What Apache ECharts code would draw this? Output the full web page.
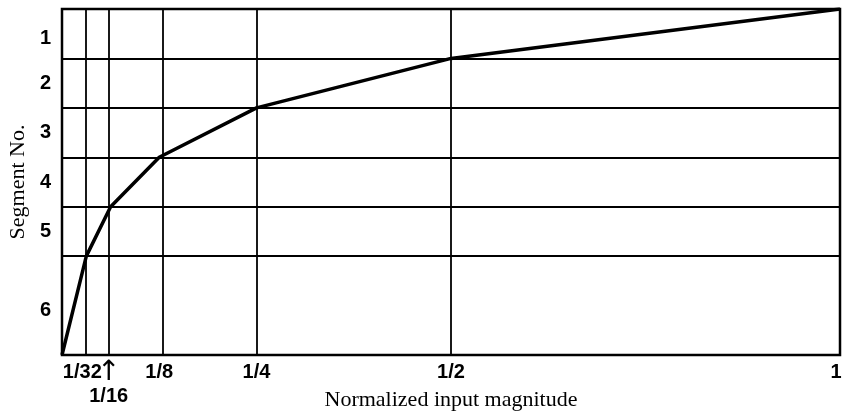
<!DOCTYPE html>
<html>
<head>
<meta charset="utf-8">
<script src="https://cdn.jsdelivr.net/npm/echarts@6/dist/echarts.min.js"></script>
<style>
  html, body { margin: 0; padding: 0; background: #fff; }
  #chart { width: 845px; height: 416px; }
</style>
</head>
<body>
<div id="chart"></div>
<script>
// breakpoints of the segmented curve
const segX = [0, 1 / 32, 1 / 16, 1 / 8, 1 / 4, 1 / 2, 1]
const segY = [0, 2, 3, 4, 5, 6, 7]

// grid lines inside the frame
const xGridVals = [1 / 32, 1 / 16, 1 / 8, 1 / 4, 1 / 2]
const yGridVals = [2, 3, 4, 5, 6]

// tick labels (1/16 sits lower, under an arrow)
const xTickVals = [1 / 32, 1 / 8, 1 / 4, 1 / 2, 1]
const xTickLabels = ['1/32', '1/8', '1/4', '1/2', '1']
const xArrowVal = 1 / 16
const xArrowLabel = '1/16'
const yLabelVals = [6.4, 5.5, 4.5, 3.5, 2.5, 0.9]
const yLabels = ['1', '2', '3', '4', '5', '6']

const chart = echarts.init(document.getElementById('chart'))

const labelFont = {
    color: '#000',
    fontFamily: 'Liberation Sans',
    fontWeight: 'bold',
    fontSize: 20
}

const option = {
    animation: false,
    grid: {
        left: 62,
        right: 5,
        top: 9,
        bottom: 61,
        containLabel: false,
        outerBoundsMode: 'none',
        show: true,
        borderColor: '#000',
        borderWidth: 2.5
    },
    xAxis: {
        type: 'value',
        min: 0,
        max: 1,
        name: 'Normalized input magnitude',
        nameLocation: 'middle',
        nameGap: 34,
        nameTextStyle: {
            color: '#000',
            fontFamily: 'Liberation Serif',
            fontSize: 22
        },
        axisLine: { show: false },
        axisTick: { show: false },
        splitLine: { show: false },
        axisLabel: {
            customValues: xTickVals,
            showMinLabel: true,
            showMaxLabel: true,
            hideOverlap: false,
            margin: 7,
            ...labelFont,
            formatter(v) {
                const i = xTickVals.findIndex(t => Math.abs(t - v) < 1e-9)
                if (i < 0) return ''
                if (i === 0) return '{l|' + xTickLabels[i] + '}'
                if (i === xTickVals.length - 1) return '{r|' + xTickLabels[i] + '}'
                return xTickLabels[i]
            },
            rich: {
                l: { ...labelFont, padding: [0, 8, 0, 0] },
                r: { ...labelFont, padding: [0, 8, 0, 0] }
            }
        }
    },
    yAxis: {
        type: 'value',
        min: 0,
        max: 7,
        name: 'Segment No.',
        nameLocation: 'middle',
        nameGap: 28,
        nameTextStyle: {
            color: '#000',
            fontFamily: 'Liberation Serif',
            fontSize: 22
        },
        axisLine: { show: false },
        axisTick: { show: false },
        splitLine: { show: false },
        axisLabel: {
            customValues: yLabelVals,
            showMinLabel: true,
            showMaxLabel: true,
            margin: 11,
            ...labelFont,
            formatter(v) {
                const i = yLabelVals.findIndex(t => Math.abs(t - v) < 1e-9)
                return i < 0 ? '' : yLabels[i]
            }
        }
    },
    series: [{
        type: 'line',
        data: segX.map((x, i) => [x, segY[i]]),
        symbol: 'none',
        lineStyle: { color: '#000', width: 3.5 },
        z: 5,
        markLine: {
            silent: true,
            symbol: 'none',
            label: { show: false },
            lineStyle: { color: '#000', width: 1.8, type: 'solid' },
            data: xGridVals.map(v => {
                if (v !== xArrowVal) return { xAxis: v }
                return {
                    xAxis: v,
                    label: {
                        show: true,
                        position: 'start',
                        distance: 6,
                        formatter: '{arr|↑}\n{b|' + xArrowLabel + '}',
                        rich: {
                            arr: { fontSize: 28, fontFamily: 'DejaVu Sans', color: '#000', lineHeight: 24, align: 'center' },
                            b: { ...labelFont, lineHeight: 22, align: 'center' }
                        }
                    }
                }
            }).concat(yGridVals.map(v => ({ yAxis: v })))
        }
    }]
}

chart.setOption(option)
</script>
</body>
</html>
